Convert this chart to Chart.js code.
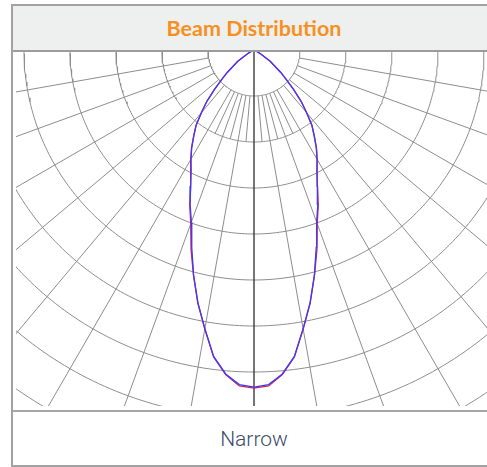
<!DOCTYPE html>
<html>
<head>
<meta charset="utf-8">
<script src="https://cdn.jsdelivr.net/npm/chart.js@4.4.1/dist/chart.umd.min.js"></script>
<style>
  html, body { margin: 0; padding: 0; background: #ffffff; width: 487px; height: 467px; overflow: hidden; }
  #frame { position: absolute; left: 11px; top: 4px; width: 490px; height: 463px; border: 2px solid #a2a2a2; box-sizing: border-box; }
  #header { position: absolute; left: 0; top: 0; right: 0; height: 44px; background: #eeefef; border-bottom: 2px solid #9c9c9c;
            display: flex; align-items: center; justify-content: center; }
  #header span { font-family: "Lato", "Open Sans", sans-serif; font-weight: 700; font-size: 21.5px; color: #f7901e; margin-left: -4px; }
  #footer { position: absolute; left: 0; right: 0; top: 404px; bottom: 0; border-top: 2px solid #a6a6a6;
            display: flex; align-items: center; justify-content: center; }
  #footer span { font-family: "Roboto", "Open Sans", sans-serif; font-weight: 300; font-size: 21px; color: #3c4b6c; margin-left: -4px; }
  #plot { position: absolute; left: 16px; top: 52px; }
</style>
</head>
<body>
<div id="frame">
  <div id="header"><span>Beam Distribution</span></div>
  <div id="footer"><span>Narrow</span></div>
</div>
<canvas id="plot" width="476" height="354"></canvas>
<script>
// ---- data (intensity in cd, grid ring step 100 cd) ----
const ringValues = [100, 200, 300, 400, 500, 600, 700, 800, 900, 1000];
const majorSpokeAngles = [10, 20, 30, 40, 50, 60, 70, 80];
const minorSpokeAngles = [5, 15, 25];
const gammaAngles = [0, 2.5, 5, 7.5, 10, 12.5, 15, 17.5, 20, 22.5, 25, 27.5, 30, 32.5, 35, 37.5, 40, 42.5, 45, 47.5, 50, 55, 60, 65, 70];
const intensityC90 = [733, 728, 707, 672, 615, 563, 507, 450, 398, 363, 326, 296, 274, 252, 228, 207, 178, 152, 122, 96, 76, 43, 17, 4, 0];
const intensityC0  = [735, 731, 708, 673, 616, 564, 508, 455, 402, 365, 327, 297, 275, 253, 229, 207, 178, 152, 122, 96, 76, 43, 17, 4, 0];

// ---- helpers ----
const rad = d => d * Math.PI / 180;
const polar = (r, deg) => ({ x: r * Math.sin(rad(deg)), y: -r * Math.cos(rad(deg)) });

function curvePoints(vals) {
  const pts = [];
  for (let i = gammaAngles.length - 1; i >= 0; i--) pts.push(polar(vals[i], -gammaAngles[i]));
  for (let i = 1; i < gammaAngles.length; i++) pts.push(polar(vals[i], gammaAngles[i]));
  return pts;
}

const gridColor = '#8d8d8d';
const datasets = [];
datasets.push({ data: curvePoints(intensityC90), borderColor: '#3a3aff', borderWidth: 1.3, order: 0 });
datasets.push({ data: curvePoints(intensityC0), borderColor: '#e0203a', borderWidth: 1.3, order: 1 });
// centre line
datasets.push({ data: [polar(0, 0), polar(1100, 0)], borderColor: '#3c3c3c', borderWidth: 1.4, order: 2 });
// rings
ringValues.forEach(r => {
  const pts = [];
  for (let a = -90; a <= 90; a += 1) pts.push(polar(r, a));
  datasets.push({ data: pts, borderColor: gridColor, borderWidth: 1, order: 3 });
});
// major spokes
majorSpokeAngles.forEach(a => {
  [a, -a].forEach(s => datasets.push({ data: [polar(ringValues[0], s), polar(1200, s)], borderColor: gridColor, borderWidth: 1, order: 3 }));
});
// minor spokes (between first and second ring)
minorSpokeAngles.forEach(a => {
  [a, -a].forEach(s => datasets.push({ data: [polar(ringValues[0], s), polar(ringValues[1], s)], borderColor: gridColor, borderWidth: 1, order: 3 }));
});

const pxPerUnit = 46 / 100;
new Chart(document.getElementById('plot'), {
  type: 'scatter',
  data: { datasets: datasets.map(d => Object.assign({ showLine: true, pointRadius: 0, fill: false, tension: 0 }, d)) },
  options: {
    responsive: false,
    animation: false,
    devicePixelRatio: 1,
    layout: { padding: 0 },
    plugins: { legend: { display: false }, tooltip: { enabled: false } },
    scales: {
      x: { type: 'linear', display: false, min: -238 / pxPerUnit, max: 238 / pxPerUnit },
      y: { type: 'linear', display: false, min: -356 / pxPerUnit, max: -2 / pxPerUnit }
    }
  }
});
</script>
</body>
</html>
